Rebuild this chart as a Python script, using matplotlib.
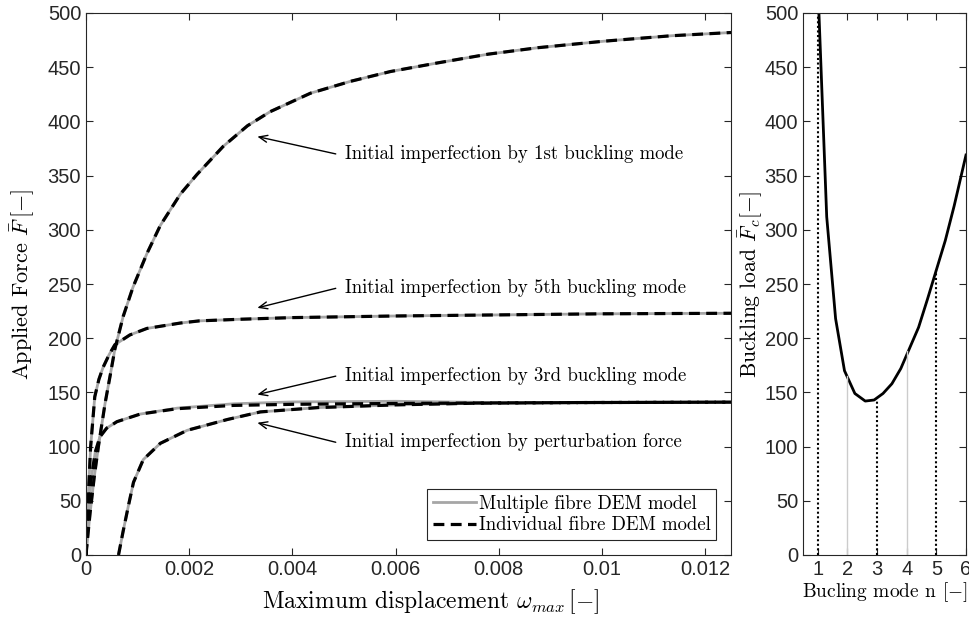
import matplotlib
matplotlib.use("Agg")
import matplotlib.pyplot as plt

plt.rcParams['font.family'] = ['Liberation Sans', 'DejaVu Sans']
plt.rcParams['mathtext.fontset'] = 'cm'
CM = 'cmr10'  # computer modern roman, ships with matplotlib

# --- left panel: load-displacement curves ---
x_mode1 = [0, 0.00004, 0.00008, 0.00016, 0.00024, 0.00037, 0.00047, 0.00056, 0.00072, 0.00091,
           0.00118, 0.00144, 0.00183, 0.00215, 0.00266, 0.00313, 0.00357, 0.00435, 0.00513,
           0.0059, 0.00682, 0.00779, 0.00876, 0.01004, 0.01134, 0.0125]
y_mode1 = [0, 20, 39, 72, 100, 140, 166, 190, 220, 247, 278, 304, 333, 351, 377, 396, 409, 426,
           437, 446, 454, 462, 468, 474, 479, 482]

x_mode5 = [0, 0.00004, 0.00009, 0.00017, 0.00025, 0.00033, 0.00045, 0.00056, 0.00085, 0.00118,
           0.00183, 0.0022, 0.003, 0.004, 0.006, 0.008, 0.010, 0.0125]
y_mode5 = [0, 50, 100, 146, 162, 173, 185, 194, 203, 209, 214, 216, 217.5, 219, 220.5, 221.5,
           222.5, 223]

x_mode3 = [0, 0.00004, 0.0001, 0.00018, 0.00027, 0.0004, 0.0006, 0.00105, 0.00177, 0.00286,
           0.004, 0.006, 0.008, 0.010, 0.0125]
y_mode3 = [0, 35, 70, 95, 109, 117, 123, 130, 135, 138, 139, 139.8, 140.3, 140.7, 141]
# multiple-fibre run for the 3rd mode sits a touch higher on the plateau
y_mode3_multi = [0, 35, 70, 95, 109, 117, 123, 130, 135.5, 139.5, 141.2, 141.8, 140.6, 140.7, 141]

x_pert = [0.00063, 0.00072, 0.00082, 0.00092, 0.00111, 0.00144, 0.00196, 0.00274, 0.00338,
          0.0045, 0.006, 0.0075, 0.0095, 0.0125]
y_pert = [0, 22, 45, 67, 88, 103, 115, 125, 132, 136, 138.5, 140, 140.6, 141]

labels = ['Initial imperfection by 1st buckling mode',
          'Initial imperfection by 5th buckling mode',
          'Initial imperfection by 3rd buckling mode',
          'Initial imperfection by perturbation force']
arrow_tip = [(0.00332, 386), (0.00332, 228), (0.00332, 148), (0.00332, 122)]
arrow_tail = [(0.00484, 370), (0.00484, 246), (0.00484, 165), (0.00484, 104)]

# --- right panel: buckling load vs mode number ---
n_mode = [1.0, 1.3, 1.6, 1.9, 2.25, 2.6, 2.9, 3.2, 3.5, 3.8, 4.1, 4.4, 4.7, 5.0, 5.3, 5.6, 6.0]
F_crit = [527, 312, 218, 170, 149, 142, 143, 149, 158, 172, 191, 210, 236, 263, 290, 322, 369]
mode_n = [1, 2, 3, 4, 5]
mode_F = [500, 165, 143, 188, 263]
mode_used = [True, False, True, False, True]

GREY = '#a6a6a6'
AXC = '#262626'
DASH = (0, (3.4, 2.0))

fig = plt.figure(figsize=(9.7, 6.24), dpi=100)
ax1 = fig.add_axes([86 / 970, 69 / 624, 645 / 970, 542 / 624])
ax2 = fig.add_axes([803 / 970, 69 / 624, 163 / 970, 542 / 624])

ax1.plot(x_mode1, y_mode1, color=GREY, lw=2, label='Multiple fibre DEM model')
ax1.plot(x_mode5, y_mode5, color=GREY, lw=2)
ax1.plot(x_mode3, y_mode3_multi, color=GREY, lw=2)
ax1.plot(x_pert, y_pert, color=GREY, lw=2)
ax1.plot(x_mode1, y_mode1, color='black', lw=2.3, ls=DASH, label='Individual fibre DEM model')
ax1.plot(x_mode5, y_mode5, color='black', lw=2.3, ls=DASH)
ax1.plot(x_mode3, y_mode3, color='black', lw=2.3, ls=DASH)
ax1.plot(x_pert, y_pert, color='black', lw=2.3, ls=DASH)

for lab, tip, tail in zip(labels, arrow_tip, arrow_tail):
    ax1.annotate('', xy=tip, xytext=tail,
                 arrowprops=dict(arrowstyle='->,head_length=0.6,head_width=0.25',
                                 color='black', lw=1, shrinkA=0, shrinkB=0))
    ax1.text(tail[0] + 0.00017, tail[1], lab, family=CM,
             fontsize=13.5, ha='left', va='center')

ax1.set_xlim(0, 0.0125)
ax1.set_ylim(0, 500)
ax1.set_xticks([0, 0.002, 0.004, 0.006, 0.008, 0.01, 0.012])
ax1.set_xticklabels(['0', '0.002', '0.004', '0.006', '0.008', '0.01', '0.012'])
ax1.set_yticks(range(0, 501, 50))
ax1.set_xlabel('Maximum displacement $\\omega_{max}\\,[-]$', family=CM, fontsize=17)
ax1.xaxis.set_label_coords(0.535, -0.06)
ax1.set_ylabel('Applied Force $\\bar{F}\\,[-]$', family=CM, fontsize=16, labelpad=8)

leg = ax1.legend(loc='lower right', bbox_to_anchor=(0.977, 0.028),
                 prop={'family': CM, 'size': 13.5},
                 handlelength=2.3, handletextpad=0.15, borderpad=0.3, labelspacing=0.2,
                 fancybox=False, framealpha=1, edgecolor=AXC, borderaxespad=0)
leg.get_frame().set_linewidth(0.8)

ax2.plot(n_mode, F_crit, color='black', lw=2)
for n, f, used in zip(mode_n, mode_F, mode_used):
    if used:
        ax2.plot([n, n], [0, f], color='black', lw=1.5, ls=(0, (1, 1.2)))
    else:
        ax2.plot([n, n], [0, f], color='#cccccc', lw=1)
ax2.set_xlim(0.5, 6)
ax2.set_ylim(0, 500)
ax2.set_xticks([1, 2, 3, 4, 5, 6])
ax2.set_yticks(range(0, 501, 50))
ax2.set_xlabel('Bucling mode n $[-]$', family=CM, fontsize=14, labelpad=1)
ax2.set_ylabel('Buckling load $\\bar{F}_c[-]$', family=CM, fontsize=15.5, labelpad=0)

for ax in (ax1, ax2):
    ax.tick_params(direction='in', top=True, right=True, length=5, width=0.8,
                   colors=AXC, labelsize=14.5, labelcolor=AXC)
    for sp in ax.spines.values():
        sp.set_color(AXC)
        sp.set_linewidth(0.8)

fig.savefig('out.png', dpi=100)
